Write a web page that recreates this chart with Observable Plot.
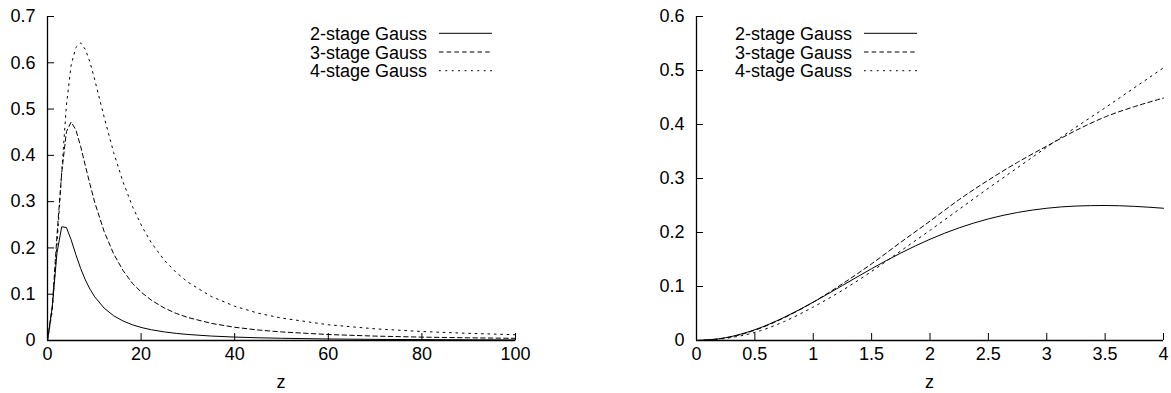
<!DOCTYPE html>
<html><head><meta charset="utf-8">
<script src="https://cdn.jsdelivr.net/npm/d3@7"></script>
<script src="https://cdn.jsdelivr.net/npm/@observablehq/plot@0.6"></script>
<style>
html,body{margin:0;padding:0;background:#fff;}
#wrap{position:relative;width:1171px;height:393px;overflow:hidden;background:#fff;font-family:"Liberation Sans",Arial,Helvetica,sans-serif;}
.panel{position:absolute;top:0;}
#overlay{position:absolute;left:0;top:0;}
</style></head><body><div id="wrap"></div><script>
// ---- data ----
const seriesNames = ["2-stage Gauss", "3-stage Gauss", "4-stage Gauss"];
const xLabel = "z";

// left panel (z from 0 to 100)
const zLeft = [0, 1.01, 2.02, 3.03, 4.04, 5.05, 6.06, 7.07, 8.08, 9.09, 10.1, 12.12, 14.14, 16.16, 18.18, 20.2, 22.2, 25, 27.5, 30, 35, 40, 45, 50, 60, 70, 80, 90, 100];
const gauss2Left = [0, 0.072, 0.189, 0.2456, 0.2442, 0.2176, 0.1856, 0.1561, 0.1311, 0.1107, 0.0942, 0.0698, 0.0534, 0.0420, 0.0338, 0.0277, 0.0232, 0.0185, 0.0154, 0.0130, 0.0096, 0.0074, 0.0059, 0.0048, 0.0033, 0.0024, 0.0019, 0.0015, 0.0012];
const gauss3Left = [0, 0.072, 0.226, 0.362, 0.451, 0.472, 0.455, 0.420, 0.378, 0.337, 0.298, 0.235, 0.187, 0.151, 0.123, 0.103, 0.087, 0.070, 0.0585, 0.0497, 0.037, 0.0286, 0.0227, 0.0185, 0.0129, 0.0095, 0.0073, 0.0058, 0.0047];
const gauss4Left = [0, 0.063, 0.206, 0.362, 0.508, 0.595, 0.633, 0.643, 0.629, 0.601, 0.563, 0.482, 0.406, 0.342, 0.289, 0.246, 0.211, 0.173, 0.147, 0.126, 0.095, 0.074, 0.059, 0.0485, 0.034, 0.0252, 0.0194, 0.0154, 0.0125];

// right panel (z from 0 to 4)
const zRight = [0, 0.25, 0.5, 0.75, 1, 1.25, 1.5, 1.75, 2, 2.25, 2.5, 2.75, 3, 3.25, 3.5, 3.75, 4];
const gauss2Right = [0, 0.0052, 0.0200, 0.0428, 0.0710, 0.1019, 0.1330, 0.1620, 0.1875, 0.2087, 0.2252, 0.2371, 0.2449, 0.2490, 0.2500, 0.2484, 0.2449];
const gauss3Right = [0, 0.0048, 0.019, 0.042, 0.071, 0.105, 0.142, 0.182, 0.221, 0.261, 0.297, 0.330, 0.360, 0.389, 0.414, 0.433, 0.449];
const gauss4Right = [0, 0.004, 0.015, 0.035, 0.062, 0.093, 0.128, 0.166, 0.204, 0.243, 0.282, 0.320, 0.358, 0.395, 0.431, 0.468, 0.505];

// ticks
const xTicksLeft = [0, 20, 40, 60, 80, 100];
const yTicksLeft = [0, 0.1, 0.2, 0.3, 0.4, 0.5, 0.6, 0.7];
const xTicksRight = [0, 0.5, 1, 1.5, 2, 2.5, 3, 3.5, 4];
const yTicksRight = [0, 0.1, 0.2, 0.3, 0.4, 0.5, 0.6];

// ---- styles ----
const FONT = '"Liberation Sans", Arial, Helvetica, sans-serif';
const dashes = [null, "4.5,3.2", "1.8,4.6"];

function rows(zs, vs) { return zs.map((z, i) => ({z, v: vs[i]})); }

function panel({zs, vals, xTicks, yTicks, xDomain, yDomain, width, marginLeft, marginRight, curve}) {
  const lines = vals.map((vs, i) => Plot.line(rows(zs, vs), {
    x: "z", y: "v", stroke: "#000", strokeWidth: 1,
    strokeDasharray: dashes[i] || undefined, curve
  }));
  return Plot.plot({
    width, height: 393, marginLeft, marginRight, marginTop: 16, marginBottom: 53,
    x: {domain: xDomain},
    y: {domain: yDomain},
    style: {fontFamily: FONT, fontSize: "18px", background: "transparent", color: "#000"},
    marks: [
      Plot.axisX({ticks: xTicks, tickSize: -7, tickPadding: 14, label: null, tickFormat: d => String(d), stroke: "#000"}),
      Plot.axisY({ticks: yTicks, tickSize: -7, tickPadding: 19, label: null, tickFormat: d => String(d), stroke: "#000"}),
      Plot.ruleX([xDomain[0]], {stroke: "#000", strokeWidth: 1.3}),
      Plot.ruleY([yDomain[0]], {stroke: "#000", strokeWidth: 1.3}),
      ...lines
    ]
  });
}

const wrap = document.getElementById("wrap");

const left = panel({
  zs: zLeft, vals: [gauss2Left, gauss3Left, gauss4Left],
  xTicks: xTicksLeft, yTicks: yTicksLeft, xDomain: [0, 100], yDomain: [0, 0.7],
  width: 585, marginLeft: 47, marginRight: 70, curve: "linear"
});
left.classList.add("panel"); left.style.left = "0px";
wrap.appendChild(left);

const right = panel({
  zs: zRight, vals: [gauss2Right, gauss3Right, gauss4Right],
  xTicks: xTicksRight, yTicks: yTicksRight, xDomain: [0, 4], yDomain: [0, 0.6],
  width: 586, marginLeft: 111, marginRight: 8, curve: "monotone-x"
});
right.classList.add("panel"); right.style.left = "585px";
wrap.appendChild(right);

// ---- overlay: legends and x-axis titles ----
const ns = "http://www.w3.org/2000/svg";
const ov = document.createElementNS(ns, "svg");
ov.setAttribute("id", "overlay");
ov.setAttribute("width", 1171); ov.setAttribute("height", 393);
ov.style.fontFamily = FONT; ov.style.fontSize = "18px";
function el(tag, attrs, text) {
  const e = document.createElementNS(ns, tag);
  for (const k in attrs) e.setAttribute(k, attrs[k]);
  if (text != null) e.textContent = text;
  ov.appendChild(e);
  return e;
}
const legendRowsY = [33.3, 52, 70.7];
[[427, 439, 492], [852, 864, 917]].forEach(([tx, l0, l1]) => {
  seriesNames.forEach((name, i) => {
    el("text", {x: tx, y: legendRowsY[i] + 6.6, "text-anchor": "end", fill: "#000"}, name);
    const a = {x1: l0, x2: l1, y1: legendRowsY[i], y2: legendRowsY[i], stroke: "#000", "stroke-width": 1};
    if (dashes[i]) a["stroke-dasharray"] = dashes[i];
    el("line", a);
  });
});
el("text", {x: 281, y: 388, "text-anchor": "middle", fill: "#000"}, xLabel);
el("text", {x: 929.5, y: 388, "text-anchor": "middle", fill: "#000"}, xLabel);
wrap.appendChild(ov);
</script></body></html>
